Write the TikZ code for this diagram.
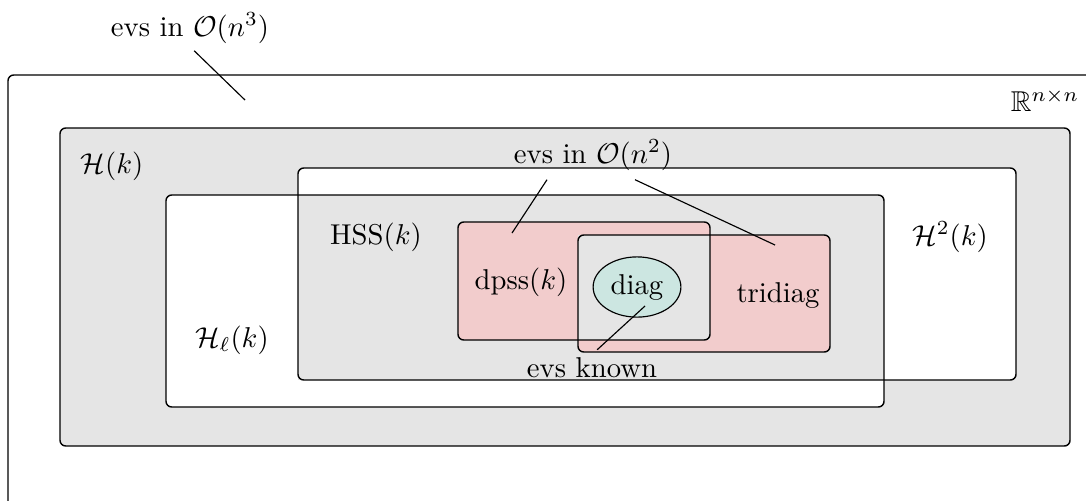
\documentclass[tikz,border=0pt]{standalone}
\usepackage{amsmath, amssymb}
\usetikzlibrary{positioning,calc,shapes.geometric}
\definecolor{setgray}{RGB}{229,229,229}
\definecolor{setred}{RGB}{242,204,204}
\definecolor{setteal}{RGB}{204,230,225}
\tikzset{
  setbox/.style={rounded corners=2pt,line width=0.5pt},
  setlabel/.style={inner sep=1pt},
  pointer/.style={line width=0.4pt},
}

\begin{document}
\begin{tikzpicture}[x=0.01225cm,y=-0.01225cm]
  \useasboundingbox (0,0) rectangle (1086,500);
  \clip (0,0) rectangle (1086,500);
  % all matrices
  \draw[setbox] (8,530) -- (8,75) -- (1120,75);
  % hierarchical matrices
  \draw[setbox,fill=setgray] (60,128) rectangle (1070,446);
  \fill[setbox,white] (166,195) rectangle (884,407);
  \fill[setbox,white] (298,168) rectangle (1016,380);
  \fill[setgray] (298,195) rectangle (884,380);
  \draw[setbox] (166,195) rectangle (884,407);
  \draw[setbox] (298,168) rectangle (1016,380);
  % dpss and tridiagonal
  \fill[setbox,setred] (458,222) rectangle (710,340);
  \fill[setbox,setred] (578,235) rectangle (830,352);
  \fill[setgray] (578,235) rectangle (710,340);
  \draw[setbox] (458,222) rectangle (710,340);
  \draw[setbox] (578,235) rectangle (830,352);
  \node[ellipse,draw,fill=setteal,line width=0.4pt,inner sep=0pt,
        minimum width=30.6pt,minimum height=21pt] (diag) at (637,287) {diag};

  % labels
  \node[setlabel] (on3) at (190,28) {evs in $\mathcal{O}(n^3)$};
  \node[setlabel] (R) at (1045,100) {$\mathbb{R}^{n\times n}$};
  \node[setlabel] (H) at (112,166) {$\mathcal{H}(k)$};
  \node[setlabel] (on2) at (593,155) {evs in $\mathcal{O}(n^2)$};
  \node[setlabel] (HSS) at (376,237) {HSS$(k)$};
  \node[setlabel] (H2) at (950,237) {$\mathcal{H}^2(k)$};
  \node[setlabel] (dpss) at (521,282) {dpss$(k)$};
  \node[setlabel] (tri) at (778,295) {tridiag};
  \node[setlabel] (Hl) at (232,340) {$\mathcal{H}_\ell(k)$};
  \node[setlabel] (known) at (592,368) {evs known};

  % pointers
  \coordinate (inR) at (245,100);
  \coordinate (inD) at (512,233);
  \coordinate (inT) at (775,245);
  \coordinate (inDiag) at (645,306);
  \draw[pointer,shorten <=2pt] (on3.south) -- (inR);
  \draw[pointer] ($(on2.south)+(-46,6)$) -- (inD);
  \draw[pointer] ($(on2.south)+(42,6)$) -- (inT);
  \draw[pointer,shorten <=2.4pt] (known.north) -- (inDiag);
\end{tikzpicture}
\end{document}
